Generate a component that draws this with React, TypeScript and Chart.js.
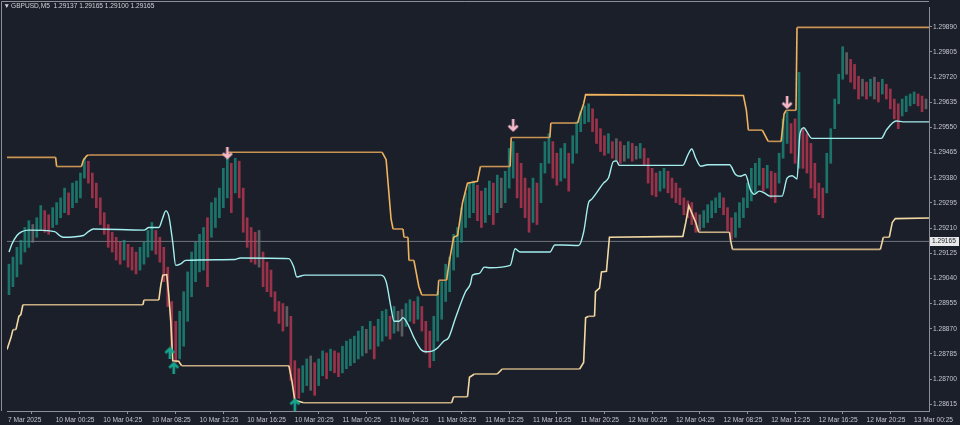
import React, { useEffect, useRef } from 'react';
import { Chart, registerables } from 'chart.js';
Chart.register(...registerables);

// ---------- header ----------
const symbolTitle = 'GBPUSD,M5';
const headerOHLC = ['1.29137', '1.29165', '1.29100', '1.29165'];
const currentPrice = 1.29165;

// ---------- axes ----------
const xTickBars = [1, 49, 97, 146, 194, 242, 290, 338, 386, 434, 482, 530, 578, 626, 674, 722, 770, 818, 866, 914];
const xTickLabels = [
  '7 Mar 2025', '10 Mar 00:25', '10 Mar 04:25', '10 Mar 08:25', '10 Mar 12:25', '10 Mar 16:25',
  '10 Mar 20:25', '11 Mar 00:25', '11 Mar 04:25', '11 Mar 08:25', '11 Mar 12:25', '11 Mar 16:25',
  '11 Mar 20:25', '12 Mar 00:25', '12 Mar 04:25', '12 Mar 08:25', '12 Mar 12:25', '12 Mar 16:25',
  '12 Mar 20:25', '13 Mar 00:25',
];
const yTickValues = [
  1.28615, 1.28700, 1.28785, 1.28870, 1.28955, 1.29040, 1.29125, 1.29210,
  1.29295, 1.29380, 1.29465, 1.29550, 1.29635, 1.29720, 1.29805, 1.29890,
];
const Y_MIN = 1.28592;
const Y_MAX = 1.29957;
const X_MAX = 929;

// ---------- price bars (each sample = 4 five-minute bars) ----------
const candleBarStep = 4;
const candleHigh = [
  1.29088, 1.29112, 1.29145, 1.29169, 1.29212, 1.29235, 1.29222, 1.29245, 1.29286, 1.29269,
  1.29255, 1.29279, 1.29296, 1.29312, 1.29345, 1.29329, 1.29362, 1.29369, 1.29396, 1.29446,
  1.29436, 1.29396, 1.29362, 1.29312, 1.29262, 1.29222, 1.29196, 1.29179, 1.29162, 1.29169,
  1.29155, 1.29145, 1.29129, 1.29145, 1.29162, 1.29202, 1.29229, 1.29202, 1.29179, 1.29145,
  1.29078, 1.28962, 1.28895, 1.28929, 1.28995, 1.29062, 1.29129, 1.29162, 1.29189, 1.29212,
  1.29245, 1.29296, 1.29312, 1.29345, 1.29412, 1.29453, 1.29429, 1.29446, 1.29436, 1.29345,
  1.29245, 1.29212, 1.29196, 1.29202, 1.29129, 1.29095, 1.29068, 1.28995, 1.28962, 1.28955,
  1.28945, 1.28912, 1.28762, 1.28735, 1.28745, 1.28768, 1.28778, 1.28755, 1.28768, 1.28795,
  1.28788, 1.28801, 1.28795, 1.28788, 1.28811, 1.28828, 1.28835, 1.28845, 1.28862, 1.28878,
  1.28868, 1.28895, 1.28878, 1.28902, 1.28929, 1.28935, 1.28912, 1.28945, 1.28929, 1.28935,
  1.28955, 1.28968, 1.28962, 1.28978, 1.28945, 1.28895, 1.28862, 1.28912, 1.28995, 1.29029,
  1.29088, 1.29112, 1.29189, 1.29212, 1.29279, 1.29329, 1.29362, 1.29369, 1.29355, 1.29335,
  1.29345, 1.29369, 1.29362, 1.29389, 1.29379, 1.29402, 1.29479, 1.29502, 1.29463, 1.29429,
  1.29379, 1.29345, 1.29379, 1.29362, 1.29429, 1.29502, 1.29529, 1.29502, 1.29463, 1.29479,
  1.29496, 1.29463, 1.29522, 1.29569, 1.29603, 1.29623, 1.29630, 1.29613, 1.29579, 1.29546,
  1.29522, 1.29529, 1.29502, 1.29512, 1.29502, 1.29489, 1.29502, 1.29496, 1.29486, 1.29496,
  1.29479, 1.29446, 1.29412, 1.29396, 1.29402, 1.29412, 1.29402, 1.29379, 1.29362, 1.29345,
  1.29312, 1.29302, 1.29296, 1.29262, 1.29255, 1.29269, 1.29289, 1.29302, 1.29312, 1.29329,
  1.29312, 1.29279, 1.29245, 1.29262, 1.29296, 1.29312, 1.29362, 1.29412, 1.29429, 1.29446,
  1.29412, 1.29422, 1.29402, 1.29396, 1.29463, 1.29579, 1.29603, 1.29563, 1.29579, 1.29736,
  1.29546, 1.29529, 1.29496, 1.29429, 1.29362, 1.29345, 1.29463, 1.29546, 1.29646, 1.29730,
  1.29823, 1.29803, 1.29780, 1.29763, 1.29723, 1.29713, 1.29703, 1.29713, 1.29720, 1.29703,
  1.29713, 1.29696, 1.29680, 1.29646, 1.29630, 1.29646, 1.29656, 1.29663, 1.29670, 1.29663,
  1.29656, 1.29646,
];
const candleLow = [
  1.28985, 1.29012, 1.29045, 1.29088, 1.29129, 1.29145, 1.29162, 1.29179, 1.29202, 1.29196,
  1.29189, 1.29212, 1.29222, 1.29245, 1.29262, 1.29255, 1.29279, 1.29296, 1.29312, 1.29379,
  1.29362, 1.29312, 1.29279, 1.29222, 1.29189, 1.29145, 1.29129, 1.29102, 1.29088, 1.29102,
  1.29078, 1.29068, 1.29055, 1.29068, 1.29088, 1.29112, 1.29135, 1.29122, 1.29095, 1.29029,
  1.28945, 1.28811, 1.28755, 1.28768, 1.28811, 1.28895, 1.28978, 1.29029, 1.29062, 1.29068,
  1.29012, 1.29179, 1.29212, 1.29245, 1.29279, 1.29312, 1.29262, 1.29329, 1.29312, 1.29196,
  1.29145, 1.29095, 1.29088, 1.29078, 1.29012, 1.28995, 1.28978, 1.28929, 1.28888, 1.28862,
  1.28878, 1.28695, 1.28621, 1.28635, 1.28655, 1.28678, 1.28662, 1.28645, 1.28678, 1.28711,
  1.28701, 1.28728, 1.28721, 1.28708, 1.28721, 1.28735, 1.28745, 1.28755, 1.28768, 1.28778,
  1.28788, 1.28801, 1.28768, 1.28811, 1.28828, 1.28845, 1.28835, 1.28855, 1.28862, 1.28845,
  1.28878, 1.28895, 1.28888, 1.28902, 1.28862, 1.28788, 1.28739, 1.28762, 1.28828, 1.28902,
  1.28962, 1.28995, 1.29068, 1.29112, 1.29162, 1.29212, 1.29245, 1.29262, 1.29235, 1.29212,
  1.29229, 1.29255, 1.29222, 1.29262, 1.29279, 1.29296, 1.29345, 1.29379, 1.29312, 1.29279,
  1.29245, 1.29196, 1.29229, 1.29222, 1.29296, 1.29396, 1.29429, 1.29379, 1.29355, 1.29369,
  1.29379, 1.29335, 1.29429, 1.29463, 1.29536, 1.29563, 1.29569, 1.29536, 1.29496, 1.29469,
  1.29456, 1.29463, 1.29446, 1.29436, 1.29429, 1.29436, 1.29446, 1.29436, 1.29443, 1.29446,
  1.29422, 1.29362, 1.29322, 1.29316, 1.29335, 1.29345, 1.29329, 1.29312, 1.29296, 1.29289,
  1.29255, 1.29245, 1.29222, 1.29196, 1.29202, 1.29212, 1.29229, 1.29245, 1.29262, 1.29279,
  1.29255, 1.29202, 1.29172, 1.29179, 1.29212, 1.29245, 1.29279, 1.29302, 1.29329, 1.29355,
  1.29335, 1.29345, 1.29312, 1.29296, 1.29362, 1.29446, 1.29496, 1.29463, 1.29429, 1.29412,
  1.29412, 1.29396, 1.29345, 1.29312, 1.29255, 1.29245, 1.29329, 1.29429, 1.29546, 1.29630,
  1.29713, 1.29730, 1.29703, 1.29680, 1.29646, 1.29656, 1.29646, 1.29656, 1.29646, 1.29636,
  1.29663, 1.29646, 1.29613, 1.29579, 1.29546, 1.29589, 1.29603, 1.29623, 1.29630, 1.29623,
  1.29603, 1.29613,
];

// ---------- channel lines (vertex bar index / price) ----------
const upperBandBars = [0, 49, 50, 75, 77, 80, 82, 222, 223, 378, 382, 387, 389, 399, 400, 404, 405, 410, 415, 418, 434, 435, 443, 445, 450, 454, 459, 464, 474, 477, 507, 508, 547, 548, 575, 577, 581, 583, 742, 745, 747, 761, 767, 780, 783, 785, 795, 796, 929];
const upperBandPrices = [1.29449, 1.29449, 1.29418, 1.29418, 1.29440, 1.29453, 1.29457, 1.29457, 1.29466, 1.29466, 1.29441, 1.29240, 1.29207, 1.29207, 1.29179, 1.29179, 1.29101, 1.29101, 1.29012, 1.28984, 1.28984, 1.29034, 1.29034, 1.29084, 1.29179, 1.29185, 1.29296, 1.29362, 1.29368, 1.29418, 1.29418, 1.29516, 1.29516, 1.29565, 1.29565, 1.29590, 1.29630, 1.29661, 1.29658, 1.29608, 1.29541, 1.29541, 1.29503, 1.29503, 1.29596, 1.29608, 1.29608, 1.29888, 1.29888];

const lowerBandBars = [0, 4, 6, 9, 12, 14, 16, 137, 138, 153, 155, 157, 161, 163, 165, 167, 173, 176, 284, 287, 290, 299, 448, 450, 464, 466, 471, 494, 499, 577, 581, 583, 586, 592, 593, 597, 599, 604, 607, 681, 684, 687, 694, 697, 728, 729, 731, 880, 883, 889, 892, 895, 929];
const lowerBandPrices = [1.28800, 1.28840, 1.28867, 1.28867, 1.28912, 1.28918, 1.28951, 1.28951, 1.28967, 1.28967, 1.29018, 1.29051, 1.29053, 1.28984, 1.28895, 1.28762, 1.28760, 1.28745, 1.28745, 1.28695, 1.28628, 1.28620, 1.28620, 1.28640, 1.28640, 1.28706, 1.28717, 1.28717, 1.28734, 1.28734, 1.28756, 1.28907, 1.28912, 1.28912, 1.28995, 1.29007, 1.29062, 1.29064, 1.29179, 1.29182, 1.29230, 1.29285, 1.29229, 1.29196, 1.29196, 1.29169, 1.29138, 1.29138, 1.29179, 1.29179, 1.29229, 1.29242, 1.29244];

const midLineBars = [2, 5, 10, 15, 22, 48, 53, 57, 77, 82, 87, 138, 143, 153, 157, 160, 163, 167, 170, 175, 180, 230, 235, 284, 289, 292, 300, 377, 382, 387, 390, 395, 399, 405, 410, 417, 422, 429, 434, 440, 445, 452, 462, 467, 469, 476, 481, 487, 507, 512, 517, 547, 552, 559, 576, 581, 586, 589, 594, 601, 606, 611, 614, 617, 681, 686, 690, 694, 699, 706, 728, 734, 739, 744, 749, 753, 758, 763, 769, 781, 786, 791, 796, 799, 803, 806, 811, 881, 886, 896, 903, 929];
const midLinePrices = [1.29129, 1.29156, 1.29185, 1.29198, 1.29203, 1.29198, 1.29185, 1.29179, 1.29185, 1.29198, 1.29207, 1.29203, 1.29212, 1.29212, 1.29245, 1.29268, 1.29251, 1.29162, 1.29084, 1.29089, 1.29101, 1.29104, 1.29109, 1.29107, 1.29078, 1.29045, 1.29051, 1.29051, 1.29029, 1.28940, 1.28895, 1.28895, 1.28907, 1.28878, 1.28840, 1.28800, 1.28792, 1.28795, 1.28806, 1.28828, 1.28840, 1.28907, 1.28995, 1.29022, 1.29051, 1.29057, 1.29078, 1.29076, 1.29084, 1.29140, 1.29129, 1.29129, 1.29153, 1.29153, 1.29151, 1.29196, 1.29296, 1.29307, 1.29329, 1.29362, 1.29379, 1.29435, 1.29437, 1.29422, 1.29422, 1.29457, 1.29477, 1.29446, 1.29419, 1.29424, 1.29424, 1.29391, 1.29385, 1.29391, 1.29340, 1.29324, 1.29335, 1.29329, 1.29318, 1.29318, 1.29379, 1.29387, 1.29376, 1.29529, 1.29549, 1.29535, 1.29513, 1.29513, 1.29541, 1.29572, 1.29569, 1.29569];

// ---------- signal arrows ----------
const sellSignalBars = [222, 510, 786];
const sellSignalPrices = [1.29463, 1.29556, 1.29633];
const buySignalBars = [164, 168, 290];
const buySignalPrices = [1.28788, 1.28738, 1.28615];

// ---------- styles ----------
const BG = '#1b1f2a';
const AXIS = '#8b8f97';
const TXT = '#c3c6cc';
const FONT = '"Liberation Sans", Arial, sans-serif';
const FONT_SIZE = 6.6;
const BULL = 'rgba(28,150,132,0.72)';
const BEAR = 'rgba(205,58,88,0.72)';
const FLAT = 'rgba(118,118,118,0.72)';

function makeArrow(color: string, up: boolean): HTMLCanvasElement {
  const c = document.createElement('canvas');
  c.width = 12;
  c.height = 13;
  const g = c.getContext('2d')!;
  g.strokeStyle = color;
  g.lineWidth = 2.6;
  g.lineCap = 'butt';
  g.lineJoin = 'miter';
  g.beginPath();
  if (up) {
    g.moveTo(6, 13);
    g.lineTo(6, 2);
    g.moveTo(1.5, 6.5);
    g.lineTo(6, 2);
    g.lineTo(10.5, 6.5);
  } else {
    g.moveTo(6, 0);
    g.lineTo(6, 11);
    g.moveTo(1.5, 6.5);
    g.lineTo(6, 11);
    g.lineTo(10.5, 6.5);
  }
  g.stroke();
  return c;
}

export default function App() {
  const ref = useRef<HTMLCanvasElement>(null);

  useEffect(() => {
    document.body.style.margin = '0';
    document.body.style.background = BG;
    const canvas = ref.current!;

    const candleData = candleHigh.map((h, i) => ({ x: i * candleBarStep + 2, y: [candleLow[i], h] }));
    const candleColors = candleHigh.map((h, i) => {
      const m = (h + candleLow[i]) / 2;
      if (i === 0) return BULL;
      const pm = (candleHigh[i - 1] + candleLow[i - 1]) / 2;
      if (Math.abs(m - pm) < 0.00006) return FLAT;
      return m > pm ? BULL : BEAR;
    });

    const bgPlugin = {
      id: 'bg',
      beforeDraw(chart: any) {
        const { ctx, width, height } = chart;
        ctx.save();
        ctx.fillStyle = BG;
        ctx.fillRect(0, 0, width, height);
        ctx.restore();
      },
    };
    const overlayPlugin = {
      id: 'overlay',
      afterDraw(chart: any) {
        const { ctx, chartArea } = chart;
        ctx.save();
        // frame
        ctx.strokeStyle = AXIS;
        ctx.lineWidth = 1;
        ctx.beginPath();
        ctx.moveTo(1.5, chartArea.bottom);
        ctx.lineTo(1.5, 1.5);
        ctx.lineTo(chartArea.right, 1.5);
        ctx.stroke();
        // header
        ctx.fillStyle = '#d0d2d6';
        ctx.font = `${FONT_SIZE}px ${FONT}`;
        ctx.textBaseline = 'middle';
        ctx.textAlign = 'left';
        ctx.fillText('\u25BC', 3.5, 6.5);
        ctx.fillText(`${symbolTitle}  ${headerOHLC.join(' ')}`, 11, 6.5);
        // current price label
        const y = Math.round(chart.scales.y.getPixelForValue(currentPrice));
        ctx.fillStyle = '#e8e8e8';
        ctx.fillRect(chartArea.right + 1, y - 4, 29, 9);
        ctx.fillStyle = '#1b1f2a';
        ctx.fillText(currentPrice.toFixed(5), chartArea.right + 3, y + 0.5);
        ctx.restore();
      },
    };

    const flatOr = (flat: string, move: string) => (ctx: any) =>
      ctx.p0.parsed.y === ctx.p1.parsed.y ? flat : move;

    const chart = new Chart(canvas, {
      type: 'bar',
      data: {
        datasets: [
          {
            type: 'scatter',
            data: sellSignalBars.map((b, i) => ({ x: b, y: sellSignalPrices[i] })),
            pointStyle: makeArrow('#f6b8c8', false) as any,
            pointRadius: 6,
            order: 0,
          } as any,
          {
            type: 'scatter',
            data: buySignalBars.map((b, i) => ({ x: b, y: buySignalPrices[i] })),
            pointStyle: makeArrow('#16a58c', true) as any,
            pointRadius: 6,
            order: 0,
          } as any,
          {
            type: 'line',
            data: upperBandBars.map((b, i) => ({ x: b, y: upperBandPrices[i] })),
            borderColor: '#dca052',
            segment: { borderColor: flatOr('#c99453', '#f0b35e') },
            borderWidth: 1.6,
            pointRadius: 0,
            tension: 0,
            order: 1,
          } as any,
          {
            type: 'line',
            data: lowerBandBars.map((b, i) => ({ x: b, y: lowerBandPrices[i] })),
            borderColor: '#e3c48c',
            segment: { borderColor: flatOr('#c9ad82', '#f2d9a2') },
            borderWidth: 1.6,
            pointRadius: 0,
            tension: 0,
            order: 2,
          } as any,
          {
            type: 'line',
            data: midLineBars.map((b, i) => ({ x: b, y: midLinePrices[i] })),
            borderColor: '#a4eeee',
            borderWidth: 1.4,
            pointRadius: 0,
            cubicInterpolationMode: 'monotone',
            order: 3,
          } as any,
          {
            type: 'bar',
            data: candleData,
            backgroundColor: candleColors,
            barThickness: 2,
            grouped: false,
            order: 5,
          } as any,
          {
            type: 'line',
            data: [{ x: 0, y: currentPrice }, { x: X_MAX, y: currentPrice }],
            borderColor: '#6f747c',
            borderWidth: 1,
            pointRadius: 0,
            order: 6,
          } as any,
        ],
      },
      options: {
        animation: false,
        responsive: false,
        maintainAspectRatio: false,
        layout: { padding: { top: 2, left: 0, right: 0, bottom: 0 } },
        plugins: {
          legend: { display: false },
          tooltip: { enabled: false },
        },
        scales: {
          x: {
            type: 'linear',
            min: 0,
            max: X_MAX,
            offset: false,
            grid: { drawOnChartArea: false, drawTicks: true, tickLength: 3, color: AXIS },
            border: { display: true, color: AXIS },
            ticks: {
              align: 'start',
              padding: 2,
              color: TXT,
              font: { family: FONT, size: FONT_SIZE },
              maxRotation: 0,
              autoSkip: false,
              callback: (_v: any, i: number) => xTickLabels[i] ?? '',
            },
            afterBuildTicks: (s: any) => {
              s.ticks = xTickBars.map((v) => ({ value: v }));
            },
            afterFit: (s: any) => {
              s.height = 14;
            },
          },
          y: {
            type: 'linear',
            position: 'right',
            min: Y_MIN,
            max: Y_MAX,
            grid: { drawOnChartArea: false, drawTicks: true, tickLength: 3, color: AXIS },
            border: { display: true, color: AXIS },
            ticks: {
              padding: 1,
              color: TXT,
              font: { family: FONT, size: FONT_SIZE },
              callback: (v: any) => Number(v).toFixed(5),
            },
            afterBuildTicks: (s: any) => {
              s.ticks = yTickValues.map((v) => ({ value: v }));
            },
            afterFit: (s: any) => {
              s.width = 31;
            },
          },
        },
      } as any,
      plugins: [bgPlugin, overlayPlugin],
    });
    return () => chart.destroy();
  }, []);

  return (
    <div style={{ position: 'absolute', left: 0, top: 0, width: 960, height: 425 }}>
      <canvas ref={ref} width={960} height={425} style={{ display: 'block', width: 960, height: 425 }} />
    </div>
  );
}
